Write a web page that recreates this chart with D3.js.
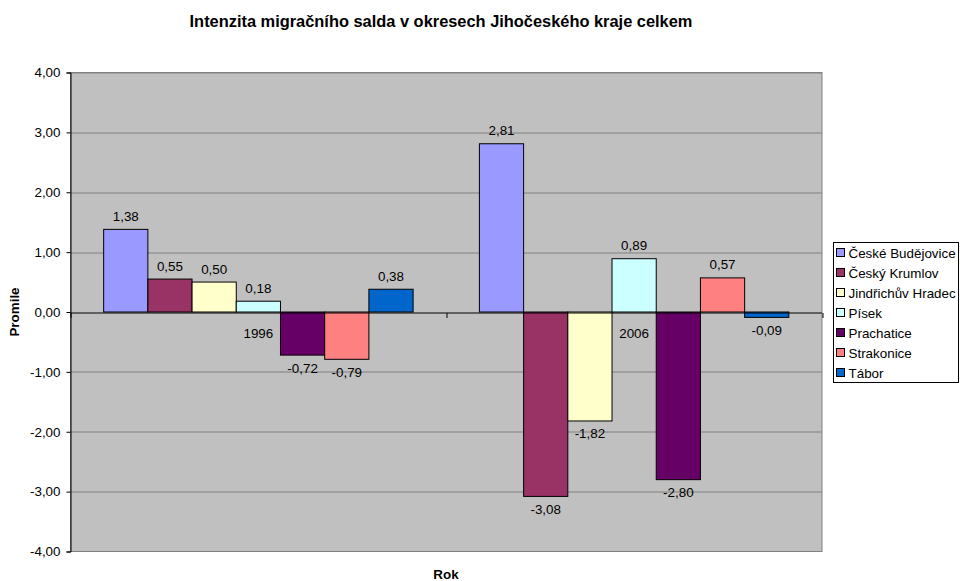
<!DOCTYPE html>
<html>
<head>
<meta charset="utf-8">
<script src="https://cdn.jsdelivr.net/npm/d3@7"></script>
<style>
  body { margin:0; background:#fff; }
  text { font-family: "Liberation Sans", Arial, sans-serif; fill:#000; }
</style>
</head>
<body>
<div id="chart"></div>
<script>
// data
var years = ['1996', '2006'];
var districts = ['České Budějovice', 'Český Krumlov', 'Jindřichův Hradec', 'Písek', 'Prachatice', 'Strakonice', 'Tábor'];
var values1996 = [1.38, 0.55, 0.50, 0.18, -0.72, -0.79, 0.38];
var values2006 = [2.81, -3.08, -1.82, 0.89, -2.80, 0.57, -0.09];
var yTicks = [-4, -3, -2, -1, 0, 1, 2, 3, 4];
var colors = ['#9999FF', '#993366', '#FFFFCC', '#CCFFFF', '#660066', '#FF8080', '#0066CC'];

var W = 960, H = 581;
var m = {t:72.5, r:138, b:29.5, l:70.5};
var w = 822 - m.l, h = 551.5 - m.t;
var FS = '13.4px';

var locale = d3.formatLocale({decimal:',', thousands:' ', grouping:[3], currency:['',''], minus:'-'});
var fmt = locale.format('.2f');

var svg = d3.select('#chart').append('svg')
    .attr('width', W).attr('height', H);

// title
svg.append('text')
    .attr('x', 441).attr('y', 27)
    .attr('text-anchor', 'middle')
    .style('font-weight', 'bold').style('font-size', '16.4px')
    .text('Intenzita migračního salda v okresech Jihočeského kraje celkem');

var plot = svg.append('g').attr('transform', 'translate(' + m.l + ',' + m.t + ')');

var x0 = d3.scaleBand().domain(years).range([0, w]);
var x1 = d3.scaleBand().domain(districts).range([0, x0.bandwidth()]).paddingOuter(0.75).paddingInner(0);
var y = d3.scaleLinear().domain([-4, 4]).range([h, 0]);
var color = d3.scaleOrdinal().domain(districts).range(colors);

// background + grid
plot.append('rect').attr('width', w).attr('height', h).attr('fill', '#C0C0C0');
plot.selectAll('.grid').data(yTicks.filter(function(d){ return d !== 0 && d !== -4; }))
  .enter().append('line')
    .attr('x1', 0).attr('x2', w)
    .attr('y1', function(d){ return Math.round(y(d)) + 0.5; })
    .attr('y2', function(d){ return Math.round(y(d)) + 0.5; })
    .attr('stroke', '#808080');
plot.append('rect').attr('width', w).attr('height', h)
    .attr('fill', 'none').attr('stroke', '#808080');

// bars
var rows = years.map(function(yr, i){
  var vals = i === 0 ? values1996 : values2006;
  return {year: yr, items: districts.map(function(d, j){ return {name:d, value:vals[j]}; })};
});

var groups = plot.selectAll('.grp').data(rows).enter().append('g')
    .attr('transform', function(d){ return 'translate(' + x0(d.year) + ',0)'; });

groups.selectAll('rect').data(function(d){ return d.items; }).enter().append('rect')
    .attr('x', function(d){ return x1(d.name); })
    .attr('y', function(d){ return y(Math.max(0, d.value)); })
    .attr('width', x1.bandwidth())
    .attr('height', function(d){ return Math.abs(y(d.value) - y(0)); })
    .attr('fill', function(d){ return color(d.name); })
    .attr('stroke', '#000').attr('stroke-width', 1);

groups.selectAll('.lbl').data(function(d){ return d.items; }).enter().append('text')
    .attr('x', function(d){ return x1(d.name) + x1.bandwidth() / 2; })
    .attr('y', function(d){ return d.value >= 0 ? y(d.value) - 8.5 : y(d.value) + 17.5; })
    .attr('text-anchor', 'middle')
    .style('font-size', FS)
    .text(function(d){ return fmt(d.value); });

// zero axis line with category ticks
var y0 = Math.round(y(0)) + 0.5;
plot.append('line').attr('x1', 0).attr('x2', w).attr('y1', y0).attr('y2', y0).attr('stroke', '#000');
plot.selectAll('.ctick').data([0, x0.bandwidth(), w]).enter().append('line')
    .attr('x1', function(d){ return Math.round(d) + 0.5; })
    .attr('x2', function(d){ return Math.round(d) + 0.5; })
    .attr('y1', y0).attr('y2', y0 + 5).attr('stroke', '#000');
plot.selectAll('.clbl').data(years).enter().append('text')
    .attr('x', function(d){ return x0(d) + x0.bandwidth() / 2; })
    .attr('y', y0 + 24.5)
    .attr('text-anchor', 'middle')
    .style('font-size', FS)
    .text(String);

// y axis
var yAxis = d3.axisLeft(y).tickValues(yTicks).tickSize(4).tickPadding(6)
    .tickFormat(fmt);
var ga = plot.append('g').call(yAxis);
ga.select('.domain').attr('stroke', '#000');
ga.selectAll('text').style('font-size', FS).style('font-family', '"Liberation Sans", Arial, sans-serif');

// axis titles
svg.append('text').attr('x', 446).attr('y', 579).attr('text-anchor', 'middle')
    .style('font-weight', 'bold').style('font-size', FS).text('Rok');
svg.append('text').attr('transform', 'translate(19,312) rotate(-90)').attr('text-anchor', 'middle')
    .style('font-weight', 'bold').style('font-size', FS).text('Promile');

// legend
var lg = svg.append('g').attr('transform', 'translate(833.5,242.5)');
lg.append('rect').attr('width', 125).attr('height', 140)
    .attr('fill', '#fff').attr('stroke', '#000');
var li = lg.selectAll('.li').data(districts).enter().append('g')
    .attr('transform', function(d, i){ return 'translate(0,' + (10 + i * 20) + ')'; });
li.append('rect').attr('x', 3).attr('y', -4).attr('width', 8).attr('height', 8)
    .attr('fill', function(d){ return color(d); }).attr('stroke', '#000');
li.append('text').attr('x', 15).attr('y', 5)
    .style('font-size', FS).text(String);
</script>
</body>
</html>
